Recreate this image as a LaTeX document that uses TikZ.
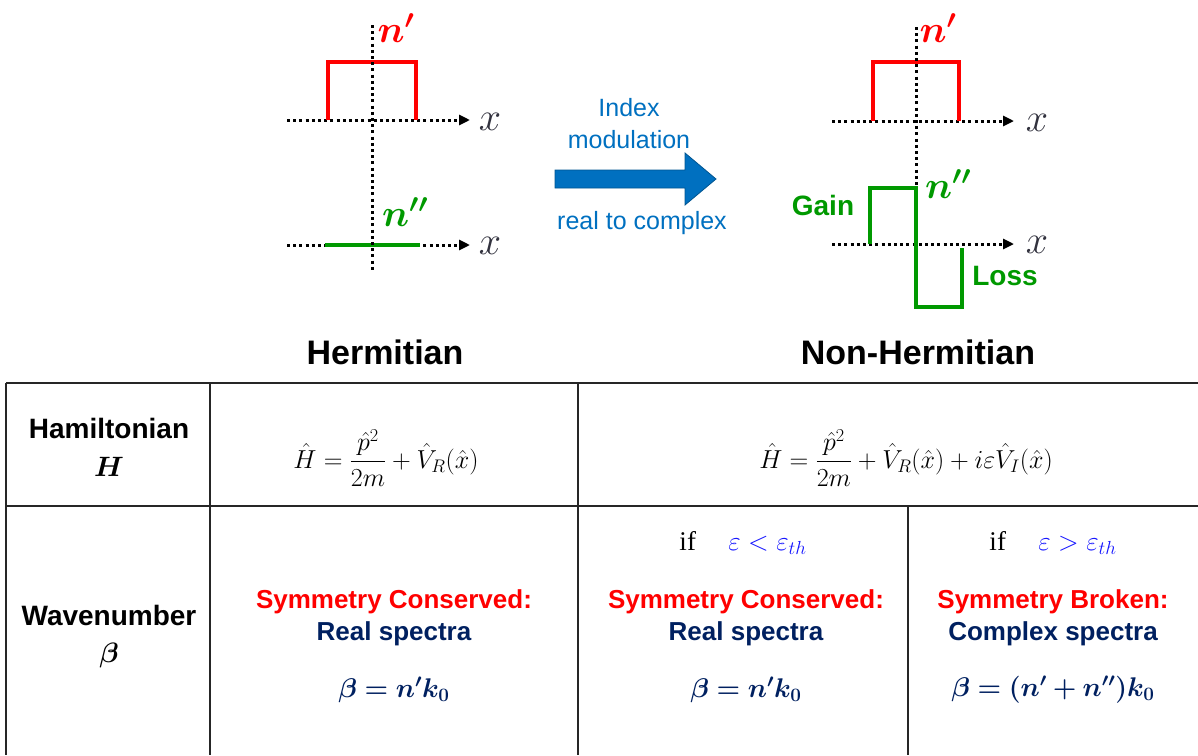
\RequirePackage{fix-cm}
\documentclass[tikz,border=0pt]{standalone}
\usepackage{amsmath,bm}
\usepackage{fontspec}
\setmainfont{Liberation Serif}
\newfontfamily\arial{Liberation Sans}
\usetikzlibrary{arrows.meta}
\definecolor{myred}{RGB}{255,0,0}
\definecolor{mygreen}{RGB}{0,153,0}
\definecolor{myblue}{RGB}{0,112,192}
\definecolor{navy}{RGB}{0,32,96}
\definecolor{epsblue}{RGB}{20,20,255}
\definecolor{axisgray}{RGB}{50,50,62}
\begin{document}
\begin{tikzpicture}[x=1pt,y=-1pt,
  dotax/.style={line width=3pt, dash pattern=on 3pt off 3.2pt, -{Triangle[length=11pt,width=10pt]}},
  dotv/.style={line width=3pt, dash pattern=on 3pt off 3.2pt},
  redwave/.style={myred, line width=4.5pt},
  greenwave/.style={mygreen, line width=4.5pt},
  xlab/.style={text=axisgray, font=\fontsize{40}{44}\selectfont, inner sep=0pt},
  nlab/.style={font=\fontsize{38}{42}\selectfont, inner sep=0pt},
  title/.style={font=\arial\bfseries\fontsize{34}{40}\selectfont, inner sep=0pt},
  bluetxt/.style={text=myblue, font=\arial\fontsize{25}{30}\selectfont, inner sep=0pt},
  gltxt/.style={text=mygreen, font=\arial\bfseries\fontsize{28}{32}\selectfont, inner sep=0pt},
  rowhead/.style={font=\arial\bfseries\fontsize{28}{34}\selectfont, inner sep=0pt},
  formula/.style={font=\fontsize{26}{30}\selectfont, inner sep=0pt},
  symred/.style={text=myred, font=\arial\bfseries\fontsize{26}{30}\selectfont, inner sep=0pt},
  symnavy/.style={text=navy, font=\arial\bfseries\fontsize{26}{30}\selectfont, inner sep=0pt},
  betaf/.style={text=navy, font=\fontsize{27}{30}\selectfont, inner sep=0pt},
  iftxt/.style={font=\fontsize{27}{30}\selectfont, inner sep=0pt},
  tline/.style={line width=1.6pt, black!85}
]
\useasboundingbox (0,0) rectangle (1198,755);

% ---------- left (Hermitian) diagram ----------
\coordinate (lvt) at (372,25);
\coordinate (lvb) at (372,270);
\coordinate (la1s) at (287,120);
\coordinate (la1e) at (470,120);
\coordinate (la2s) at (287,245);
\coordinate (la2e) at (470,245);
\draw[dotax] (la1s) -- (la1e);
\draw[dotax] (la2s) -- (la2e);
\draw[redwave] (328,120) -- (328,62) -- (416,62) -- (416,120);
\draw[greenwave] (325,245) -- (420,245);
\draw[dotv] (lvt) -- (lvb);
\node[nlab, text=myred] (ln1) at (396,28) {$\boldsymbol{n'}$};
\node[nlab, text=mygreen] (ln2) at (405,212) {$\boldsymbol{n''}$};
\node[xlab] (lx1) at (490,122) {$x$};
\node[xlab] (lx2) at (490,246) {$x$};

% ---------- arrow ----------
\draw[fill=myblue, draw=myblue!75!black, line width=0.8pt]
  (555,170) -- (685,170) -- (685,153) -- (716,179) -- (685,205) -- (685,188) -- (555,188) -- cycle;
\node[bluetxt] (idx) at (629,108) {Index};
\node[bluetxt] (mod) at (629,140) {modulation};
\node[bluetxt] (r2c) at (642,223) {real to complex};

% ---------- right (Non-Hermitian) diagram ----------
\coordinate (rvt) at (916,27);
\coordinate (rvb) at (916,186);
\coordinate (ra1s) at (832,121);
\coordinate (ra1e) at (1014,121);
\coordinate (ra2s) at (832,244);
\coordinate (ra2e) at (1014,244);
\draw[dotax] (ra1s) -- (ra1e);
\draw[dotax] (ra2s) -- (ra2e);
\draw[redwave] (873,121) -- (873,62) -- (959,62) -- (959,121);
\draw[greenwave] (870,244) -- (870,188) -- (916,188) -- (916,307) -- (962,307) -- (962,248);
\draw[dotv] (rvt) -- (rvb);
\node[nlab, text=myred] (rn1) at (938,28) {$\boldsymbol{n'}$};
\node[nlab, text=mygreen] (rn2) at (948,184) {$\boldsymbol{n''}$};
\node[xlab] (rx1) at (1037,123) {$x$};
\node[xlab] (rx2) at (1037,245) {$x$};
\node[gltxt] (gain) at (823,205) {Gain};
\node[gltxt] (loss) at (1005,276) {Loss};

% ---------- titles ----------
\node[title] (herm) at (385,352) {Hermitian};
\node[title] (nherm) at (918,352) {Non-Hermitian};

% ---------- table ----------
\draw[tline] (6,383) -- (1198,383);
\draw[tline] (6,506) -- (1198,506);
\draw[tline] (6,383) -- (6,755);
\draw[tline] (210,383) -- (210,755);
\draw[tline] (578,383) -- (578,755);
\draw[tline] (908,506) -- (908,755);

\node[rowhead] (ham) at (109,428) {Hamiltonian};
\node[rowhead] (hamH) at (109,467) {$\boldsymbol{H}$};
\node[rowhead] (wav) at (109,615) {Wavenumber};
\node[rowhead] (wavb) at (109,655) {$\boldsymbol{\beta}$};

\node[formula] (f1) at (386,458) {$\displaystyle \hat{H}=\frac{\hat{p}^{2}}{2m}+\hat{V}_{R}(\hat{x})$};
\node[formula] (f2) at (906,458) {$\displaystyle \hat{H}=\frac{\hat{p}^{2}}{2m}+\hat{V}_{R}(\hat{x})+i\varepsilon\hat{V}_{I}(\hat{x})$};

% column 2
\node[symred] (c2a) at (394,602) {Symmetry Conserved:};
\node[symnavy] (c2b) at (394,634) {Real spectra};
\node[betaf] (c2c) at (394,690) {$\boldsymbol{\beta = n'k_0}$};

% column 3
\node[iftxt] (c3if) at (743,543) {if\hspace{1.2em}{\color{epsblue}$\varepsilon<\varepsilon_{th}$}};
\node[symred] (c3a) at (746,602) {Symmetry Conserved:};
\node[symnavy] (c3b) at (746,634) {Real spectra};
\node[betaf] (c3c) at (746,690) {$\boldsymbol{\beta = n'k_0}$};

% column 4
\node[iftxt] (c4if) at (1053,543) {if\hspace{1.2em}{\color{epsblue}$\varepsilon>\varepsilon_{th}$}};
\node[symred] (c4a) at (1053,602) {Symmetry Broken:};
\node[symnavy] (c4b) at (1053,634) {Complex spectra};
\node[betaf] (c4c) at (1053,690) {$\boldsymbol{\beta = (n' + n'')k_0}$};
\end{tikzpicture}
\end{document}
